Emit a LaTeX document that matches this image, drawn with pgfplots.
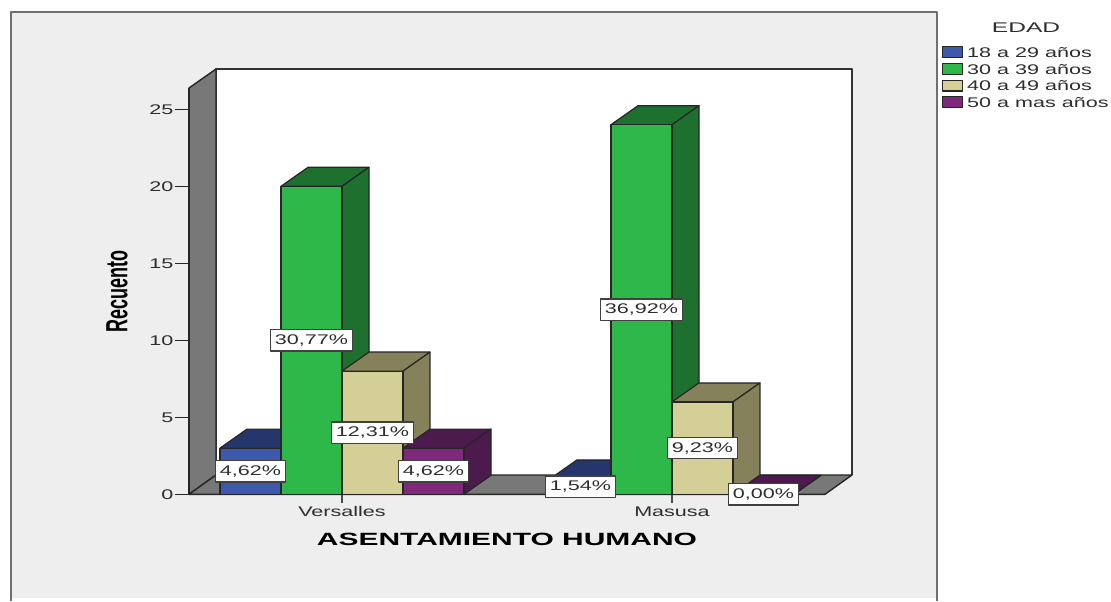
\documentclass[border=0pt]{standalone}
\usepackage{graphicx}
\usepackage{fontspec}
\setmainfont{Liberation Sans}
\usepackage{pgfplots}
\usepackage{pgfplotstable}
\pgfplotsset{compat=1.18}

% Wide lettering used throughout the chart
\newcommand{\st}[1]{\scalebox{1.54}[1]{#1}}
\newcommand{\chartfont}{\fontsize{10.5pt}{12pt}\selectfont}

\definecolor{panel}{HTML}{EEEEEE}
\definecolor{framegray}{HTML}{707070}
\definecolor{wall}{HTML}{787878}
\definecolor{txt}{HTML}{2E2E2E}
\definecolor{blueF}{HTML}{3E58AC}
\definecolor{blueD}{HTML}{25366C}
\definecolor{greenF}{HTML}{2EB84A}
\definecolor{greenD}{HTML}{1D702D}
\definecolor{tanF}{HTML}{D4CE97}
\definecolor{tanD}{HTML}{85815B}
\definecolor{purpleF}{HTML}{80297C}
\definecolor{purpleD}{HTML}{4D1A4D}

% Counts per settlement for each age group: x position, count
\pgfplotstableread{
x n
0 3
1 1
}\tblA
\pgfplotstableread{
x n
0 20
1 24
}\tblB
\pgfplotstableread{
x n
0 8
1 6
}\tblC
\pgfplotstableread{
x n
0 3
1 0
}\tblD

% Percentage labels, placed half way up each bar
\pgfplotstableread{
x y lab
-0.2773 1.5 4,62
-0.0924 10 30,77
0.0924 4 12,31
0.2773 1.5 4,62
0.7227 0.5 1,54
0.9076 12 36,92
1.0924 3 9,23
1.2773 0 0,00
}\tblLab

\pgfplotsset{
  frontbar/.style n args={2}{
    ybar, bar width=0.18485, bar shift=#1, fill=#2, draw=black!85,
    line width=0.9pt,
    legend image code/.code={
      \draw[##1, line width=0.9pt] (0pt,-4.1pt) rectangle (15pt,4.1pt);
    }
  }
}

% Top and side faces of one bar: centre x, count, face colour
\newcommand{\depthfaces}[3]{%
  \pgfmathsetmacro{\xa}{#1-0.092425}%
  \pgfmathsetmacro{\xb}{#1+0.092425}%
  \pgfmathsetmacro{\xc}{\xa+0.0818}%
  \pgfmathsetmacro{\xd}{\xb+0.0818}%
  \pgfmathsetmacro{\yt}{#2}%
  \pgfmathsetmacro{\yu}{#2+1.234}%
  \addplot[forget plot, fill=#3, draw=black!85, line width=0.9pt]
    coordinates {(\xa,\yt) (\xc,\yu) (\xd,\yu) (\xb,\yt) (\xa,\yt)};
  \addplot[forget plot, fill=#3, draw=black!85, line width=0.9pt]
    coordinates {(\xb,0) (\xd,1.234) (\xd,\yu) (\xb,\yt) (\xb,0)};
}

\begin{document}
\begin{tikzpicture}[x=0.75pt, y=-0.75pt, line join=round]
\useasboundingbox (0,0) rectangle (1111,601);
\fill[white] (0,0) rectangle (1111,601);

% Panel behind the plot
\fill[panel] (11,12) rectangle (937,598);
\draw[framegray, line width=1.65pt] (11,601) -- (11,12) -- (937,12) -- (937,601);

% Back wall, side wall and floor
\fill[white] (216,69) rectangle (852,475);
\draw[black!80, line width=1.2pt] (216,475) -- (216,69) -- (852,69) -- (852,475);
\filldraw[fill=wall, draw=black!85, line width=1.05pt]
  (189,88) -- (216,69) -- (216,475) -- (189,494.3) -- cycle;
\filldraw[fill=wall, draw=black!85, line width=1.05pt]
  (189,494.3) -- (216,475) -- (852,475) -- (825,494.3) -- cycle;

\begin{axis}[
  at={(141.75pt,-370.725pt)}, anchor=south west,
  scale only axis, width=477pt, height=304.7pt,
  xmin=-0.46364, xmax=1.46364, ymin=0, ymax=26.38,
  clip=false,
  axis x line*=bottom, axis y line*=left,
  axis line style={-, black!85, line width=1.05pt},
  xtick={0,1},
  xticklabels={\st{Versalles},\st{Masusa}},
  ytick={0,5,10,15,20,25},
  yticklabel={\st{\pgfmathprintnumber{\tick}}},
  tick align=outside,
  major tick length=10.5pt,
  ytick style={black!85, line width=0.8pt},
  xtick style={black!70, line width=0.8pt, yscale=0.6},
  tick label style={font=\chartfont, text=txt},
  yticklabel style={inner sep=1.1pt},
  xticklabel style={inner sep=0pt, yshift=1.5pt},
  /pgf/number format/assume math mode=true,
  xlabel={\scalebox{1.69}[1]{\fontsize{13.3pt}{15pt}\selectfont\bfseries ASENTAMIENTO HUMANO}},
  xlabel style={inner sep=0pt, yshift=-11.8pt},
  ylabel={\scalebox{1}[1.7]{\fontsize{13.5pt}{15pt}\selectfont\bfseries Recuento}},
  ylabel style={inner sep=0pt, yshift=15pt},
  legend style={
    at={(1.184,1.103)}, anchor=north west,
    draw=none, fill=none, inner sep=0pt, outer sep=0pt,
    row sep=3.4pt, font=\chartfont, text=txt,
    nodes={inner sep=0pt, text depth=0pt, text height=7.9pt},
  },
  legend cell align=left,
]

% Age group 18 a 29
\depthfaces{-0.2773}{3}{blueD}
\depthfaces{0.7227}{1}{blueD}
\addplot[frontbar={-0.2773}{blueF}] table[x=x, y=n] {\tblA};
\addlegendentry{\hspace*{3pt}\st{18 a 29 años}}

% Age group 30 a 39
\depthfaces{-0.0924}{20}{greenD}
\depthfaces{0.9076}{24}{greenD}
\addplot[frontbar={-0.0924}{greenF}] table[x=x, y=n] {\tblB};
\addlegendentry{\hspace*{3pt}\st{30 a 39 años}}

% Age group 40 a 49
\depthfaces{0.0924}{8}{tanD}
\depthfaces{1.0924}{6}{tanD}
\addplot[frontbar={0.0924}{tanF}] table[x=x, y=n] {\tblC};
\addlegendentry{\hspace*{3pt}\st{40 a 49 años}}

% Age group 50 and over
\depthfaces{0.2773}{3}{purpleD}
\depthfaces{1.2773}{0}{purpleD}
\addplot[frontbar={0.2773}{purpleF}] table[x=x, y=n] {\tblD};
\addlegendentry{\hspace*{3pt}\st{50 a mas años}}

% Percentage labels in white boxes
\addplot[forget plot, draw=none, mark=none,
  point meta=explicit symbolic,
  nodes near coords={\st{\pgfplotspointmeta\%}},
  nodes near coords align=center,
  every node near coord/.append style={
    anchor=center, fill=white, draw=black!75, line width=1pt,
    font=\chartfont, text=txt, inner xsep=3.4pt, inner ysep=0pt,
    minimum height=16pt},
] table[x=x, y=y, meta=lab] {\tblLab};
\end{axis}

% Legend heading
\node[font=\chartfont, text=txt] at (1026,28) {\scalebox{1.75}[1]{EDAD}};
\end{tikzpicture}
\end{document}
